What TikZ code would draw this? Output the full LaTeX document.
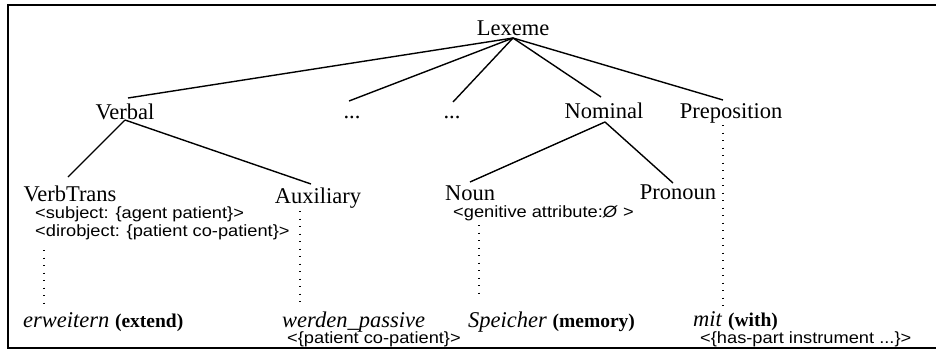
\documentclass[tikz,border=0pt]{standalone}
\usepackage{fontspec}
\setmainfont{Liberation Serif}
\setsansfont{Liberation Sans}
\newfontfamily\featfont[FakeStretch=1.12]{Liberation Sans}
\newcommand{\gl}[1]{{\bfseries\fontsize{19.5}{22}\selectfont #1}}
\begin{document}
\begin{tikzpicture}[x=1pt,y=-1pt,
  lbl/.style={inner sep=0pt, anchor=base, font=\fontsize{22.5}{26}\selectfont},
  feat/.style={inner sep=0pt, anchor=base west, font=\featfont\fontsize{16.3}{18}\selectfont},
  leaf/.style={inner sep=0pt, anchor=base west, font=\fontsize{22.5}{26}\selectfont},
  edge/.style={line width=1.4pt},
  dotl/.style={line width=1.3pt, dash pattern=on 1.3pt off 6.2pt},
  frame/.style={line width=1.6pt}]
\useasboundingbox (0,0) rectangle (936,356);
\draw[frame] (936,5) -- (8,5) -- (8,348) -- (936,348);
% tree labels
\node[lbl] (lex) at (513,35) {Lexeme};
\node[lbl] (verbal) at (125,119) {Verbal};
\node[lbl] (dotsA) at (352,118) {...};
\node[lbl] (dotsB) at (452,118) {...};
\node[lbl] (nominal) at (604,118) {Nominal};
\node[lbl] (prep) at (731,118) {Preposition};
\node[lbl] (vt) at (70,201) {VerbTrans};
\node[lbl] (aux) at (318,203) {Auxiliary};
\node[lbl] (noun) at (470,200) {Noun};
\node[lbl] (pron) at (678,199) {Pronoun};
% features
\node[feat] (subj) at (35,218) {<subject: \{agent patient\}>};
\node[feat] (dobj) at (35,236) {<dirobject: \{patient co-patient\}>};
\node[feat] (gen) at (453,217) {<genitive attribute:\textit{Ø} >};
% leaves
\node[leaf] (erw) at (23,327) {\textit{erweitern} \gl{(extend)}};
\node[leaf] (werd) at (282,327) {\textit{werden\_passive}};
\node[feat] (werdf) at (287,343) {<\{patient co-patient\}>};
\node[leaf] (speich) at (468,327) {\textit{Speicher} \gl{(memory)}};
\node[leaf] (mit) at (693,326) {\textit{mit} \gl{(with)}};
\node[feat] (mitf) at (700,343) {<\{has-part instrument ...\}>};
% solid edges
\draw[edge] ([shift={(0,3)}]lex.base) -- ([shift={(3,-21)}]verbal.base);
\draw[edge] ([shift={(0,3)}]lex.base) -- ([shift={(-3,-17)}]dotsA.base);
\draw[edge] ([shift={(0,3)}]lex.base) -- ([shift={(1,-16)}]dotsB.base);
\draw[edge] ([shift={(0,3)}]lex.base) -- ([shift={(-3,-21)}]nominal.base);
\draw[edge] ([shift={(0,3)}]lex.base) -- ([shift={(-8,-18)}]prep.base);
\draw[edge] ([shift={(0,1)}]verbal.base) -- ([shift={(-2,-24)}]vt.base);
\draw[edge] ([shift={(0,1)}]verbal.base) -- ([shift={(-7,-19)}]aux.base);
\draw[edge] ([shift={(1,4)}]nominal.base) -- ([shift={(0,-18)}]noun.base);
\draw[edge] ([shift={(1,4)}]nominal.base) -- ([shift={(-5,-16)}]pron.base);
% dotted links
\draw[dotl] ([shift={(9,14)}]dobj.base west) -- ([shift={(21,-19)}]erw.base west);
\draw[dotl] ([shift={(-18,8)}]aux.base) -- ([shift={(18,-22)}]werd.base west);
\draw[dotl] ([shift={(26,8)}]gen.base west) -- ([shift={(11,-32)}]speich.base west);
\draw[dotl] ([shift={(-8,7)}]prep.base) -- ([shift={(30,-17)}]mit.base west);
\end{tikzpicture}
\end{document}
